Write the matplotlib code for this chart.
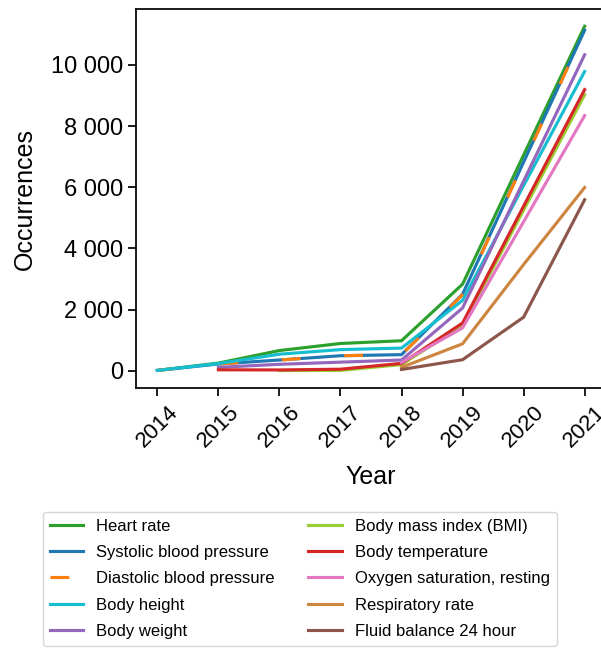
import numpy as np
import matplotlib
matplotlib.use('Agg')
import matplotlib.pyplot as plt
from matplotlib.ticker import FuncFormatter

plt.rcParams['font.family'] = ['Liberation Sans', 'DejaVu Sans']

years = [2014, 2015, 2016, 2017, 2018, 2019, 2020, 2021]
nan = np.nan

heart_rate    = [10, 250, 660, 890, 980, 2830, 7050, 11260]
systolic_bp   = [10, 220, 350, 490, 525, 2500, 6820, 11130]
diastolic_bp  = [10, 220, 350, 490, 525, 2480, 6800, 11100]
body_height   = [10, 235, 540, 690, 740, 2300, 6050, 9780]
body_weight   = [nan, 110, 210, 280, 350, 2050, 6200, 10330]
bmi           = [nan, nan, 5, 10, 200, 1480, 5250, 9020]
body_temp     = [nan, 30, 25, 50, 240, 1560, 5380, 9190]
oxygen_sat    = [nan, nan, nan, nan, 270, 1400, 4870, 8340]
resp_rate     = [nan, nan, nan, nan, 110, 880, 3470, 5990]
fluid_balance = [nan, nan, nan, nan, 40, 360, 1750, 5590]

labels = ['Heart rate', 'Systolic blood pressure', 'Diastolic blood pressure',
          'Body height', 'Body weight', 'Body mass index (BMI)',
          'Body temperature', 'Oxygen saturation, resting',
          'Respiratory rate', 'Fluid balance 24 hour']
series = [heart_rate, systolic_bp, diastolic_bp, body_height, body_weight,
          bmi, body_temp, oxygen_sat, resp_rate, fluid_balance]
colors = ['tab:green', 'tab:blue', 'tab:orange', 'tab:cyan', 'tab:purple',
          'yellowgreen', 'tab:red', 'tab:pink', 'peru', 'tab:brown']

fig = plt.figure(figsize=(6.01, 6.48), dpi=100)
ax = fig.add_axes([136/601, 260/648, 470/601, 379/648])

for lab, y, c in zip(labels, series, colors):
    if lab == 'Diastolic blood pressure':
        ax.plot(years, y, color=c, lw=2.25, dashes=(6, 14), label=lab)
    else:
        ax.plot(years, y, color=c, lw=2.25, label=lab)

ax.set_xlim(2013.65, 2021.35)
ax.set_ylim(-565, 11825)
ax.set_xticks(years)
ax.set_xticklabels([str(y) for y in years], rotation=45, fontsize=16)
ax.set_yticks([0, 2000, 4000, 6000, 8000, 10000])
ax.yaxis.set_major_formatter(FuncFormatter(lambda v, p: '{:,.0f}'.format(v).replace(',', ' ')))
ax.tick_params(axis='y', labelsize=17)
ax.tick_params(length=6, width=1.25)
for s in ax.spines.values():
    s.set_linewidth(1.25)

ax.set_xlabel('Year', fontsize=18, labelpad=10)
ax.set_ylabel('Occurrences', fontsize=18, labelpad=10)

fig.legend(loc='upper left', bbox_to_anchor=(43/601, 1 - 512/648),
           borderaxespad=0, ncol=2, fontsize=12, labelspacing=0.68)

fig.savefig('out.png', dpi=100)
